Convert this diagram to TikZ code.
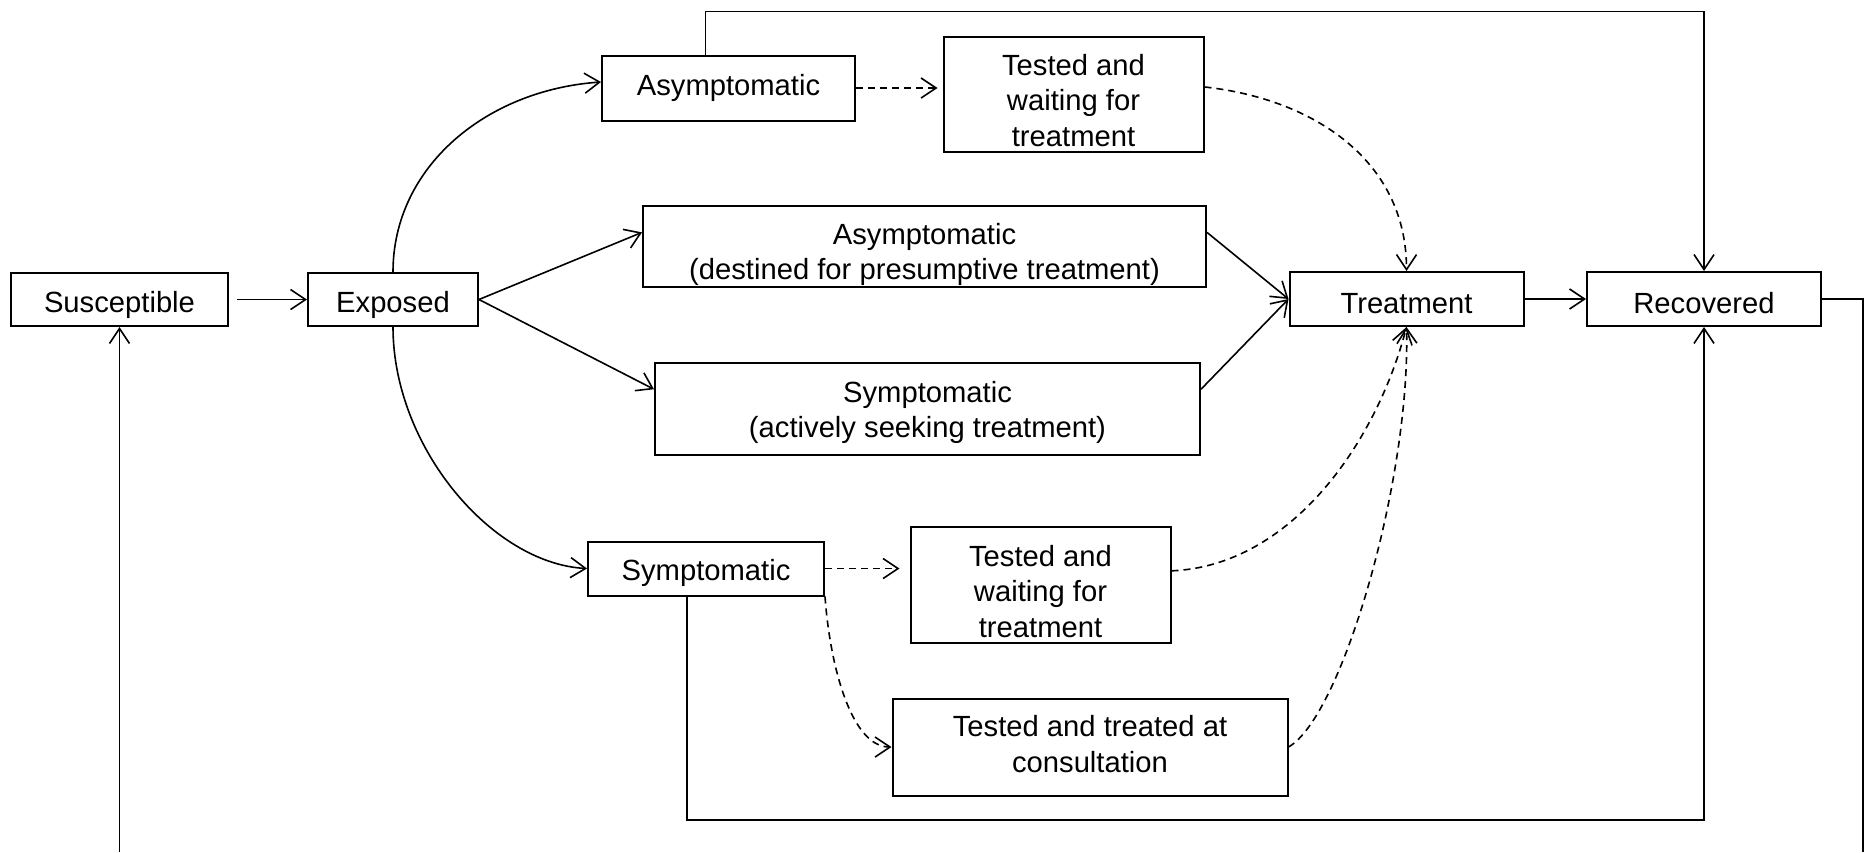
\documentclass[tikz,border=0pt]{standalone}
\usepackage{fontspec}
\setmainfont{Liberation Sans}
\usetikzlibrary{arrows.meta,calc}
\newcommand{\boxstrut}[1]{\rule{0pt}{#1}}
\begin{document}
\begin{tikzpicture}[x=0.5pt,y=-0.5pt,
  stbox/.style={draw,line width=1pt,rectangle,inner sep=0pt,align=center,
    font=\fontsize{14.6}{17.6}\selectfont},
  arr/.style={line width=0.8pt,-{Straight Barb[length=7.5pt,width=10pt,line width=0.8pt]}},
  darr/.style={arr,dash pattern=on 3.5pt off 2.5pt}]
\useasboundingbox (0,0) rectangle (1870,852);

\node[stbox,minimum width=108.5pt,minimum height=26.5pt] (sus) at (119.5,299.5) {\boxstrut{16pt}Susceptible};
\node[stbox,minimum width=85pt,minimum height=26.5pt] (exp) at (393,299.5) {\boxstrut{16pt}Exposed};
\node[stbox,minimum width=126.5pt,minimum height=32.5pt] (asy) at (728.5,88) {Asymptomatic};
\node[stbox,minimum width=130pt,minimum height=57.5pt] (tw1) at (1073.5,94) {\boxstrut{17pt}Tested and\\waiting for\\treatment};
\node[stbox,minimum width=281.5pt,minimum height=40.5pt] (asyp) at (924.5,246.5) {\boxstrut{18.8pt}Asymptomatic\\(destined for presumptive treatment)};
\node[stbox,minimum width=117pt,minimum height=27pt] (trt) at (1406.5,299) {\boxstrut{14.5pt}Treatment};
\node[stbox,minimum width=117pt,minimum height=27pt] (rec) at (1704,299) {\boxstrut{14.5pt}Recovered};
\node[stbox,minimum width=272.5pt,minimum height=46pt] (sym2) at (927.5,409) {\boxstrut{14pt}Symptomatic\\(actively seeking treatment)};
\node[stbox,minimum width=118pt,minimum height=27pt] (sym) at (706,568.5) {\boxstrut{15.5pt}Symptomatic};
\node[stbox,minimum width=130pt,minimum height=58pt] (tw2) at (1040.5,585) {\boxstrut{17pt}Tested and\\waiting for\\treatment};
\node[stbox,minimum width=197.5pt,minimum height=48.5pt] (ttc) at (1090,747) {Tested and treated at\\consultation\rule[-3pt]{0pt}{0pt}};

% helper coordinates
\coordinate (asyTop) at ($(asy.north west)!0.41!(asy.north east)$);
\coordinate (symBot) at ($(sym.south west)!0.42!(sym.south east)$);
\coordinate (topline) at (0,11.5);
\coordinate (botline) at (0,820);
\coordinate (rightx) at (1863,0);
\coordinate (bottomedge) at (0,852);
\coordinate (asypIn) at ($(asyp.north west)!0.33!(asyp.south west)$);
\coordinate (asypOut) at ($(asyp.north east)!0.33!(asyp.south east)$);
\coordinate (sym2In) at ($(sym2.north west)!0.29!(sym2.south west)$);
\coordinate (sym2Out) at ($(sym2.north east)!0.29!(sym2.south east)$);
\coordinate (tw1Out) at ($(tw1.north east)!0.44!(tw1.south east)$);
\coordinate (tw2Out) at ($(tw2.north east)!0.38!(tw2.south east)$);
\coordinate (asyIn) at ($(asy.west)+(0,-6)$);

% solid connectors
\draw[arr,shorten <=4pt] (sus) -- (exp);
\draw[arr] (exp.north) .. controls +(0,-105) and +(-115,8) .. (asyIn);
\draw[arr] (exp.south) .. controls +(0,120) and +(-95,-5) .. (sym.west);
\draw[arr] (exp.east) -- (asypIn);
\draw[arr] (exp.east) -- (sym2In);
\draw[arr] (asypOut) -- (trt.west);
\draw[arr] (sym2Out) -- (trt.west);
\draw[arr,line width=1.2pt] (trt) -- (rec);

% feedback / bypass routes
\draw[arr] (asyTop) -- (asyTop |- topline) -| (rec.north);
\draw[arr] (symBot) -- (symBot |- botline) -| (rec.south);
\draw[line width=0.8pt] (rec.east) -- (rec.east -| rightx) -- (rightx |- bottomedge);
\draw[arr] (sus.south |- bottomedge) -- (sus.south);

% dashed connectors
\draw[darr,shorten >=2.5pt] (asy.east) -- (asy.east -| tw1.west);
\draw[darr] (tw1Out) .. controls +(110,12) and +(0,-110) .. (trt.north);
\draw[darr,shorten >=5pt] (sym.east) -- (sym.east -| tw2.west);
\draw[darr] (sym.south east) .. controls +(5,70) and +(-40,0) .. (ttc.west);
\draw[darr] (tw2Out) .. controls +(120,-5) and +(-30,115) .. (trt.south);
\draw[darr] (ttc.east) .. controls +(53,-30) and +(4,154) .. (trt.south);
\end{tikzpicture}
\end{document}
